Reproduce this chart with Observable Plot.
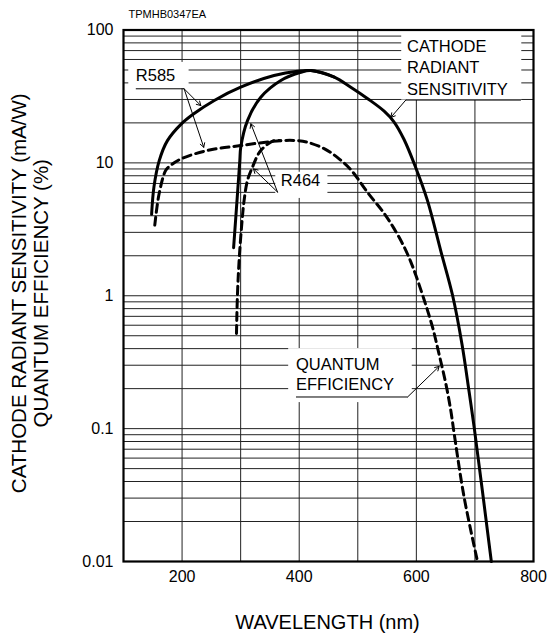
<!DOCTYPE html>
<html>
<head>
<meta charset="utf-8">
<script src="https://cdn.jsdelivr.net/npm/d3@7"></script>
<script src="https://cdn.jsdelivr.net/npm/@observablehq/plot@0.6"></script>
<style>
  html, body { margin: 0; padding: 0; background: #fff; }
</style>
</head>
<body>
<div id="chart"></div>
<script>
// ---- Data (wavelength in nm) ----
// R585 cathode radiant sensitivity (mA/W), solid
const r585Wavelength = [148, 152, 161, 175, 198, 220, 255, 300, 357, 397, 420, 460, 488, 517, 545, 562, 579, 599, 619, 642, 662, 678, 690, 699, 728];
const r585Sensitivity = [4.1, 6.6, 10.4, 14.7, 19.5, 23.4, 29.5, 37.1, 45.4, 49.0, 49.5, 44.2, 37.1, 30.4, 24.5, 20.3, 15.0, 9.2, 5.2, 2.15, 1.0, 0.43, 0.19, 0.1, 0.01];
// R464 cathode radiant sensitivity (mA/W), solid (joins the R585 curve past the peak)
const r464Wavelength = [288, 294.6, 298.6, 300.2, 311.7, 334.4, 368.6, 402.7, 420, 460];
const r464Sensitivity = [2.3, 5.85, 10.4, 13.1, 20.8, 31.2, 41.7, 48.1, 49.5, 44.2];
// R585 quantum efficiency (%), dashed
const r585QeWavelength = [153.4, 160.8, 172.2, 180.8, 197.8, 243.4, 300, 368.6, 397, 414, 442.5, 465, 488, 516.6, 545, 562, 579, 590.5, 599, 613, 627.6, 638.8, 650.3, 658.8, 664.5, 681.5, 704];
const r585Qe = [3.4, 5.85, 8.8, 9.6, 10.7, 12.4, 13.5, 14.7, 14.7, 14.3, 12.8, 11.0, 8.9, 6.0, 4.17, 3.2, 2.34, 1.8, 1.43, 0.94, 0.58, 0.363, 0.218, 0.137, 0.092, 0.0305, 0.0102];
// R464 quantum efficiency (%), dashed (merges with R585)
const r464QeWavelength = [292.9, 294.6, 297.4, 301.5, 305.9, 311.7, 320.2, 334.4, 357, 368.6];
const r464Qe = [0.52, 1.03, 1.84, 3.28, 5.21, 7.38, 9.29, 12.4, 14.7, 14.7];

// ---- Axes / grid ----
const xTicks = [200, 400, 600, 800];
const xGrid = [200, 300, 400, 500, 600, 700];
const yTicks = [0.01, 0.1, 1, 10, 100];
const yDecades = [0.01, 0.1, 1, 10];
const yMantissas = [1, 2, 3, 4, 5, 6, 7, 8, 9];

// ---- Annotations (data units) ----
const boxX1 = [109, 360, 575, 382];
const boxX2 = [212, 449, 780, 593];
const boxY1 = [36.1, 5.4, 29.7, 0.157];
const boxY2 = [57, 8.5, 100, 0.40];

const underX1 = [121, 582, 394.5];
const underX2 = [203.5, 778.6, 585];
const underY = [36.1, 29.7, 0.173];

const arrowX1 = [203.5, 203.5, 363, 363, 582, 585];
const arrowY1 = [36.1, 36.1, 6.03, 6.03, 29.7, 0.173];
const arrowX2 = [232, 237, 317.4, 322, 556.5, 638.9];
const arrowY2 = [27, 13.1, 19.7, 9.0, 22, 0.294];

const seriesLabels = ["R585", "R464"];
const seriesLabelX = [121, 368.6];
const seriesLabelY = [44.9, 7.28];

const cathodeLabel = "CATHODE\nRADIANT\nSENSITIVITY";
const cathodeLabelX = 584, cathodeLabelY = 53.4;
const qeLabel = "QUANTUM\nEFFICIENCY";
const qeLabelX = 394.5, qeLabelY = 0.259;

const yTitle = "CATHODE RADIANT SENSITIVITY (mA/W)\nQUANTUM EFFICIENCY (%)";
const xTitle = "WAVELENGTH (nm)";
const codeLabel = "TPMHB0347EA";

// ---- Tables ----
const zip = (xs, ys) => xs.map((x, i) => ({x, y: ys[i]}));
const r585S = zip(r585Wavelength, r585Sensitivity);
const r464S = zip(r464Wavelength, r464Sensitivity);
const r585Q = zip(r585QeWavelength, r585Qe);
const r464Q = zip(r464QeWavelength, r464Qe);
const yGrid = yDecades.flatMap(d => yMantissas.map(m => +(m * d).toPrecision(3))).concat([100]);
const boxes = boxX1.map((x1, i) => ({x1, x2: boxX2[i], y1: boxY1[i], y2: boxY2[i]}));
const unders = underX1.map((x1, i) => ({x1, x2: underX2[i], y: underY[i]}));
const arrows = arrowX1.map((x1, i) => ({x1, y1: arrowY1[i], x2: arrowX2[i], y2: arrowY2[i]}));
const sLabels = seriesLabels.map((t, i) => ({t, x: seriesLabelX[i], y: seriesLabelY[i]}));

const font = "'Liberation Sans', Arial, Helvetica, sans-serif";
const curve = "catmull-rom";

const plot = Plot.plot({
  width: 547,
  height: 637,
  marginTop: 29.5,
  marginBottom: 76,
  marginLeft: 123,
  marginRight: 14,
  style: {fontFamily: font, fontSize: "16px", background: "#fff", color: "#000"},
  x: {domain: [100, 800]},
  y: {type: "log", domain: [0.01, 100]},
  marks: [
    Plot.ruleX(xGrid, {stroke: "#222", strokeWidth: 1}),
    Plot.ruleY(yGrid, {stroke: "#222", strokeWidth: 1}),
    Plot.rect(boxes, {x1: "x1", x2: "x2", y1: "y1", y2: "y2", fill: "#fff"}),
    Plot.line(r585Q, {x: "x", y: "y", curve, stroke: "#000", strokeWidth: 3, strokeDasharray: "8,5"}),
    Plot.line(r464Q, {x: "x", y: "y", curve, stroke: "#000", strokeWidth: 3, strokeDasharray: "8,5"}),
    Plot.line(r585S, {x: "x", y: "y", curve, stroke: "#000", strokeWidth: 3}),
    Plot.line(r464S, {x: "x", y: "y", curve, stroke: "#000", strokeWidth: 3}),
    Plot.link(unders, {x1: "x1", x2: "x2", y1: "y", y2: "y", stroke: "#000", strokeWidth: 1}),
    Plot.arrow(arrows, {x1: "x1", y1: "y1", x2: "x2", y2: "y2", stroke: "#000", strokeWidth: 1, headLength: 7}),
    Plot.text(sLabels, {x: "x", y: "y", text: "t", textAnchor: "start", fontSize: 16.5}),
    Plot.text([cathodeLabel], {x: () => cathodeLabelX, y: () => cathodeLabelY, text: d => d, textAnchor: "start", lineAnchor: "middle", lineHeight: 1.31, fontSize: 16.5}),
    Plot.text([qeLabel], {x: () => qeLabelX, y: () => qeLabelY, text: d => d, textAnchor: "start", lineAnchor: "middle", lineHeight: 1.21, fontSize: 16.5}),
    Plot.axisX({ticks: xTicks, tickSize: 0, tickPadding: 9, label: null, fontSize: 16}),
    Plot.axisY({ticks: yTicks, tickSize: 0, tickPadding: 10, tickFormat: d => String(d), label: null, fontSize: 16}),
    Plot.frame({stroke: "#000", strokeWidth: 2.2}),
    Plot.text([yTitle], {frameAnchor: "left", text: d => d, rotate: -90, dx: -94, dy: -2.5, lineAnchor: "middle", textAnchor: "middle", lineHeight: 1.08, fontSize: 20.5}),
    Plot.text([xTitle], {frameAnchor: "bottom", text: d => d, dx: -1, dy: 61.5, lineAnchor: "middle", fontSize: 20}),
    Plot.text([codeLabel], {frameAnchor: "top-left", text: d => d, dx: 5, dy: -15.5, textAnchor: "start", lineAnchor: "middle", fontSize: 11})
  ]
});
document.getElementById("chart").appendChild(plot);
</script>
</body>
</html>
